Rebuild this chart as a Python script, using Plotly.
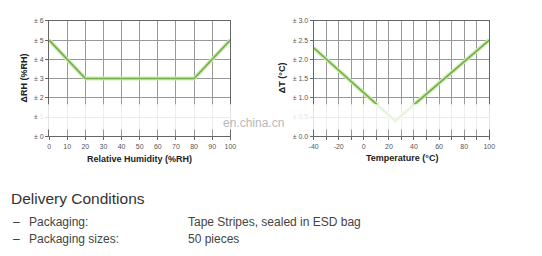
import plotly.graph_objects as go

W, H = 542, 256

# Data
rh_x = [0, 20, 80, 100]
rh_err = [5, 3, 3, 5]
rh_ticks = [0, 1, 2, 3, 4, 5, 6]
rh_ticklabels = ["± 0", "± 1", "± 2", "± 3", "± 4", "± 5", "± 6"]
rh_xticks = list(range(0, 101, 10))

t_x = [-40, 25, 100]
t_err = [2.3, 0.4, 2.5]
t_ticks = [0.0, 0.5, 1.0, 1.5, 2.0, 2.5, 3.0]
t_ticklabels = ["± 0.0", "± 0.5", "± 1.0", "± 1.5", "± 2.0", "± 2.5", "± 3.0"]
t_xticks = list(range(-40, 101, 10))
t_xticklabels = [str(v) if v % 20 == 0 else "" for v in t_xticks]

info_labels = ["Packaging:", "Packaging sizes:"]
info_values = ["Tape Stripes, sealed in ESD bag", "50 pieces"]

def px(x):
    return x / W

def py(y):
    return 1 - y / H

FONT = "Liberation Sans, Arial, sans-serif"
GREEN_HALO = "#cde9b4"
GREEN = "#72b043"

fig = go.Figure()
fig.add_trace(go.Scatter(x=rh_x, y=rh_err, mode="lines", line=dict(color=GREEN_HALO, width=4),
                         xaxis="x", yaxis="y", hoverinfo="skip"))
fig.add_trace(go.Scatter(x=rh_x, y=rh_err, mode="lines", line=dict(color=GREEN, width=1.6),
                         xaxis="x", yaxis="y"))
fig.add_trace(go.Scatter(x=t_x, y=t_err, mode="lines", line=dict(color=GREEN_HALO, width=4),
                         xaxis="x2", yaxis="y2", hoverinfo="skip"))
fig.add_trace(go.Scatter(x=t_x, y=t_err, mode="lines", line=dict(color=GREEN, width=1.6),
                         xaxis="x2", yaxis="y2"))

axis_common = dict(showline=True, linecolor="#666", linewidth=1, mirror=True,
                   showgrid=True, gridcolor="#999", gridwidth=1, zeroline=False,
                   ticks="outside", ticklen=3, tickcolor="#666",
                   tickfont=dict(family=FONT, size=7, color="#555"), fixedrange=True)

fig.update_layout(
    width=W, height=H, margin=dict(l=0, r=0, t=0, b=0),
    paper_bgcolor="white", plot_bgcolor="white", showlegend=False,
    xaxis=dict(domain=[px(45), px(230)], range=[0, 100], tickvals=rh_xticks,
               ticktext=[str(v) for v in rh_xticks], anchor="y", **axis_common),
    yaxis=dict(domain=[py(136), py(17.3)], range=[0, 6], tickvals=rh_ticks,
               ticktext=rh_ticklabels, anchor="x", **axis_common),
    xaxis2=dict(domain=[px(315), px(494.3)], range=[-40, 100], tickvals=t_xticks,
                ticktext=t_xticklabels, anchor="y2", **axis_common),
    yaxis2=dict(domain=[py(136), py(17.3)], range=[0, 3], tickvals=t_ticks,
                ticktext=t_ticklabels, anchor="x2", **axis_common),
)

ann = []
title_font = dict(family=FONT, size=9, color="#222")
ann.append(dict(text="<b>Relative Humidity (%RH)</b>", x=px(137.5), y=py(159), xref="paper", yref="paper",
                showarrow=False, font=title_font, xanchor="center", yanchor="middle"))
ann.append(dict(text="<b>ΔRH (%RH)</b>", x=px(19), y=py(76), xref="paper", yref="paper",
                showarrow=False, font=title_font, textangle=-90, xanchor="center", yanchor="middle"))
ann.append(dict(text="<b>Temperature (°C)</b>", x=px(405), y=py(158.5), xref="paper", yref="paper",
                showarrow=False, font=title_font, xanchor="center", yanchor="middle"))
ann.append(dict(text="<b>ΔT (°C)</b>", x=px(283), y=py(76), xref="paper", yref="paper",
                showarrow=False, font=title_font, textangle=-90, xanchor="center", yanchor="middle"))

# watermark text
ann.append(dict(text="en.china.cn", x=px(220), y=py(122.5), xref="paper", yref="paper",
                showarrow=False, font=dict(family=FONT, size=12, color="#b8b8b8"),
                xanchor="left", yanchor="middle"))

# Delivery conditions text block
ann.append(dict(text="Delivery Conditions", x=px(4), y=py(199.5), xref="paper", yref="paper",
                showarrow=False, font=dict(family=FONT, size=15.5, color="#333"),
                xanchor="left", yanchor="middle"))
rows_y = [223.7, 241.5]
for lab, val, yy in zip(info_labels, info_values, rows_y):
    ann.append(dict(text="–", x=px(6), y=py(yy), xref="paper", yref="paper", showarrow=False,
                    font=dict(family=FONT, size=12, color="#333"), xanchor="left", yanchor="middle"))
    ann.append(dict(text=lab, x=px(22), y=py(yy), xref="paper", yref="paper", showarrow=False,
                    font=dict(family=FONT, size=12, color="#444"), xanchor="left", yanchor="middle"))
    ann.append(dict(text=val, x=px(185), y=py(yy), xref="paper", yref="paper", showarrow=False,
                    font=dict(family=FONT, size=12, color="#444"), xanchor="left", yanchor="middle"))

fig.update_layout(annotations=ann)

# watermark band
fig.update_layout(shapes=[
    dict(type="rect", xref="paper", yref="paper", x0=px(33), x1=px(505), y0=py(129), y1=py(103),
         fillcolor="rgba(255,255,255,0.82)", line=dict(width=0), layer="above"),
])

fig.write_html("out.html")
